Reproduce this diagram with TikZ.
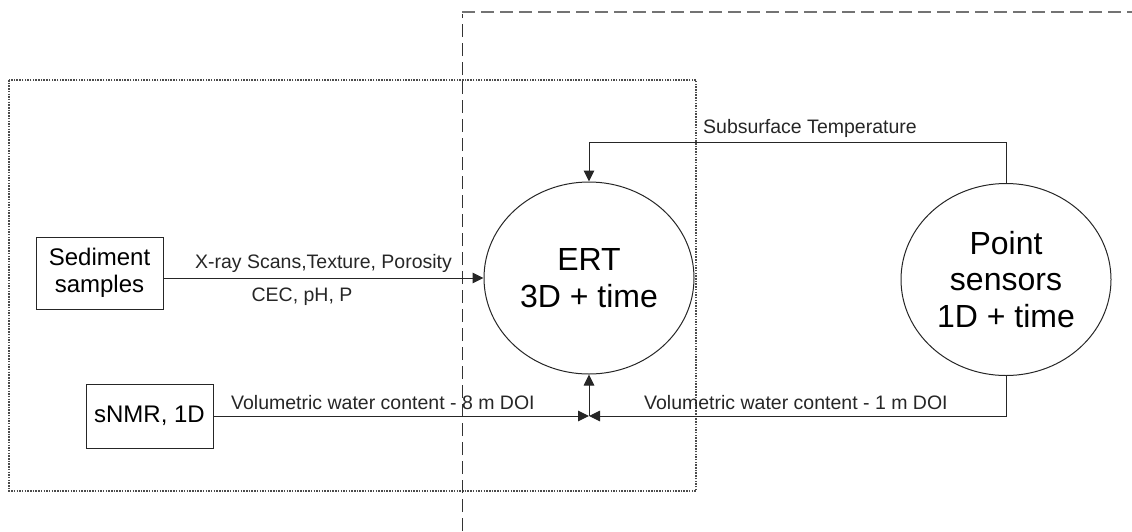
\documentclass[tikz,border=0pt]{standalone}
\usepackage{fontspec}
\setmainfont{Liberation Sans}
\usetikzlibrary{shapes.geometric,arrows.meta}
\begin{document}
\begin{tikzpicture}[x=1pt,y=-1pt,
  conn/.style={line width=1pt,draw=black!85},
  arr/.style={conn,-{Triangle[length=11pt,width=10.5pt]}},
  boxnode/.style={draw=black!85,line width=1pt,rectangle,align=center,inner sep=0pt,
     font=\fontsize{24}{26.5}\selectfont},
  bignode/.style={draw=black!85,line width=1pt,ellipse,align=center,inner sep=0pt,
     minimum width=210pt,minimum height=192pt,font=\fontsize{32}{36.5}\selectfont},
  lab/.style={inner sep=0pt,font=\fontsize{19.5}{23}\selectfont,text=black!85},
  dotbox/.style={draw=black!70,line width=1.1pt,dash pattern=on 1.5pt off 1.2pt},
  vdash/.style={draw=black!80,line width=1pt,dash pattern=on 13pt off 6pt},
  hdash/.style={draw=black!55,line width=2.2pt,dash pattern=on 13pt off 6pt}]
\useasboundingbox (0,0) rectangle (1132,531);
% regions
\draw[dotbox] (9,80) rectangle (696,491);
\draw[vdash] (462,531) -- (462,14);
\draw[hdash] (462,12) -- (1132,12);
% nodes
\node[boxnode,minimum width=127pt,minimum height=72pt] (sed) at (99.5,273) {Sediment\\samples};
\node[boxnode,minimum width=127pt,minimum height=64pt] (snmr) at (149.5,416) {sNMR, 1D};
\node[bignode] (ert) at (589,278) {ERT\\3D + time};
\node[bignode] (pts) at (1006,279.5) {Point\\sensors\\1D + time};
\coordinate (tc) at (0,142);
\coordinate (m) at (589,416);
% connectors
\draw[arr] (sed.east |- ert.west) -- (ert.west);
\draw[arr] (pts.north) -- (pts.north |- tc) -- (ert.north |- tc) -- (ert.north);
\draw[arr] (snmr.east) -- (m);
\draw[arr] (pts.south) |- (m);
\draw[arr] (m) -- (ert.south);
% labels
\node[lab,anchor=base] (l1) at (323.5,268) {X-ray Scans,Texture, Porosity};
\node[lab,anchor=base] (l2) at (302,301) {CEC, pH, P};
\node[lab,anchor=base west] (l3) at (231,409) {Volumetric water content - 8 m DOI};
\node[lab,anchor=base west] (l4) at (644,409) {Volumetric water content - 1 m DOI};
\node[lab,anchor=base west] (l5) at (703,133) {Subsurface Temperature};
\end{tikzpicture}
\end{document}
